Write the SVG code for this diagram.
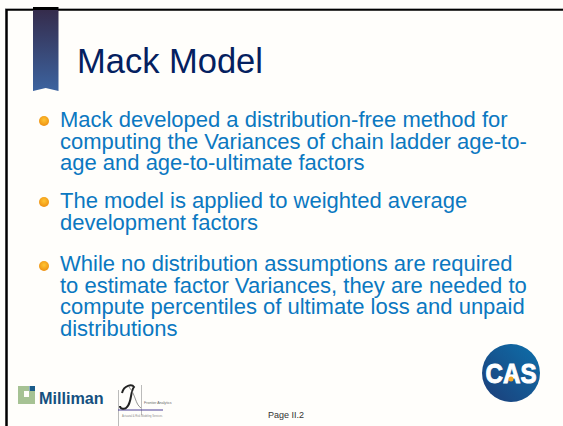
<svg xmlns="http://www.w3.org/2000/svg" width="563" height="426" viewBox="0 0 563 426">
<defs>
<linearGradient id="rib" x1="0" y1="0" x2="0" y2="1"><stop offset="0" stop-color="#352c4c"/><stop offset="1" stop-color="#3c639f"/></linearGradient>
<radialGradient id="bul" cx="0.5" cy="0.4" r="0.6"><stop offset="0" stop-color="#ffc533"/><stop offset="1" stop-color="#ee9011"/></radialGradient>
<linearGradient id="cas" x1="0" y1="1" x2="1" y2="0"><stop offset="0" stop-color="#1d3d78"/><stop offset="1" stop-color="#0d70ab"/></linearGradient>
<style>
text{font-family:"Liberation Sans",Arial,sans-serif}
.b{font-size:22px;fill:#0b78c1}
</style>
</defs>
<rect width="563" height="426" fill="#fffefb"/>
<path d="M6.500 426V9.500H563" fill="none" stroke="#000" stroke-width="2.500"/>
<path d="M5 8.500H563" stroke="#aaa" stroke-width="1"/>
<g id="ribbon">
<rect x="33" y="7" width="25.500" height="4" fill="#000"/>
<path d="M33 10H58.500V91L45.700 88L33 91Z" fill="url(#rib)"/>
</g>
<g id="title"><text x="77" y="73" font-size="34.500" fill="#04205f">Mack Model</text></g>
<g id="bullet1">
<circle cx="44" cy="121" r="5" fill="url(#bul)"/>
<text class="b" x="60" y="127">Mack developed a distribution-free method for</text>
<text class="b" x="60" y="149">computing the Variances of chain ladder age-to-</text>
<text class="b" x="60" y="170">age and age-to-ultimate factors</text>
</g>
<g id="bullet2">
<circle cx="44" cy="202" r="5" fill="url(#bul)"/>
<text class="b" x="60" y="208">The model is applied to weighted average</text>
<text class="b" x="60" y="230">development factors</text>
</g>
<g id="bullet3">
<circle cx="44" cy="266" r="5" fill="url(#bul)"/>
<text class="b" x="60" y="271">While no distribution assumptions are required</text>
<text class="b" x="60" y="293">to estimate factor Variances, they are needed to</text>
<text class="b" x="60" y="314">compute percentiles of ultimate loss and unpaid</text>
<text class="b" x="60" y="336">distributions</text>
</g>
<g id="milliman">
<path d="M18 386H29V391H35V404H18Z" fill="#a6c294"/>
<path d="M24 391H29V397H24Z" fill="#fffefb"/>
<rect x="29.500" y="386" width="5.500" height="5" fill="#1b5c8a"/>
<text x="39" y="404" font-size="16.200" font-weight="bold" fill="#14507f">Milliman</text>
</g>
<g id="frontier">
<path d="M118.500 390V426M141.500 385V415" stroke="#aaa" stroke-width="0.800" fill="none"/>
<path d="M118 410H163" stroke="#4a3f96" stroke-width="1"/>
<path d="M122 393C124 385 132 384 134 387C130 392 132 402 127 407C125 410 120 409 120 406" fill="none" stroke="#222" stroke-width="2"/>
<path d="M129 387C136 395 135 404 141 408" fill="none" stroke="#777" stroke-width="0.800"/>
<text x="144" y="404" font-size="3.600" fill="#666">Frontier Analytics</text>
<text x="122" y="417" font-size="2.600" fill="#888">Actuarial &amp; Risk Modeling Services</text>
</g>
<g id="cas-logo">
<circle cx="511" cy="373" r="29" fill="url(#cas)"/>
<text x="511" y="383" font-size="28" font-weight="bold" fill="#fff" stroke="#fff" stroke-width="1" text-anchor="middle" textLength="51" lengthAdjust="spacingAndGlyphs">CAS</text>
<circle cx="511" cy="379" r="2.500" fill="#f5a623"/>
</g>
<g id="footer"><text x="268" y="417.500" font-size="9" fill="#333">Page II.2</text></g>
</svg>
